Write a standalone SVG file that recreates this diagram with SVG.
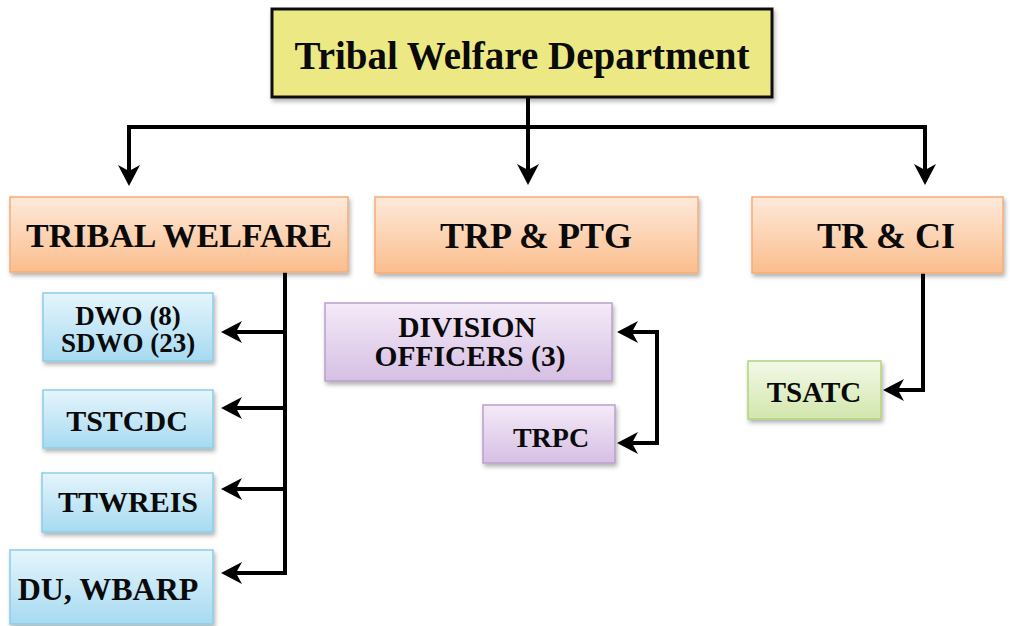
<svg xmlns="http://www.w3.org/2000/svg" width="1013" height="626" viewBox="0 0 1013 626">
<defs>
<linearGradient id="gOrange" x1="0" y1="0" x2="0" y2="1"><stop offset="0" stop-color="#fdeadb"/><stop offset="1" stop-color="#fbbd8c"/></linearGradient>
<linearGradient id="gBlue" x1="0" y1="0" x2="0" y2="1"><stop offset="0" stop-color="#e6f5fc"/><stop offset="1" stop-color="#a6daf1"/></linearGradient>
<linearGradient id="gPurple" x1="0" y1="0" x2="0" y2="1"><stop offset="0" stop-color="#f4eaf8"/><stop offset="1" stop-color="#d6bfe4"/></linearGradient>
<linearGradient id="gGreen" x1="0" y1="0" x2="0" y2="1"><stop offset="0" stop-color="#f3f9e8"/><stop offset="1" stop-color="#d2e6ac"/></linearGradient>
<filter id="shadow" x="-10%" y="-10%" width="120%" height="140%"><feDropShadow dx="1.5" dy="3" stdDeviation="2" flood-color="#000" flood-opacity="0.3"/></filter>
<marker id="ah" markerUnits="userSpaceOnUse" markerWidth="30" markerHeight="30" viewBox="-15 -15 30 30" refX="0" refY="0" orient="auto" overflow="visible">
<path d="M8,0 L-13,-11 L-7,0 L-13,11 Z" fill="#000"/>
</marker>
</defs>
<style>
.t{font-family:"Liberation Serif","Times New Roman",serif;font-weight:bold;fill:#0a0a0a;text-anchor:middle}
.orange{fill:url(#gOrange);stroke:#f4ad78;stroke-width:1.5;filter:url(#shadow)}
.blue{fill:url(#gBlue);stroke:#8ccde8;stroke-width:1.5;filter:url(#shadow)}
.purple{fill:url(#gPurple);stroke:#b9a0ca;stroke-width:1.5;filter:url(#shadow)}
.green{fill:url(#gGreen);stroke:#b3d37c;stroke-width:1.5;filter:url(#shadow)}
.conn path{fill:none;stroke:#000;stroke-width:4;stroke-linejoin:miter}
.arr{marker-end:url(#ah)}
</style>

<g id="connectors" class="conn">
<path d="M528,97 V127"/>
<path d="M129,127 H925"/>
<path class="arr" d="M129,125 V178"/>
<path class="arr" d="M528,127 V177"/>
<path class="arr" d="M925,125 V177"/>
<path class="arr" d="M285,272 V573 H229"/>
<path class="arr" d="M285,332 H229"/>
<path class="arr" d="M285,408 H229"/>
<path class="arr" d="M285,489 H229"/>
<path class="arr" d="M657,332 H625"/>
<path class="arr" d="M657,330 V443 H625"/>
<path class="arr" d="M923,273 V390 H891"/>
</g>

<g id="node-tribal-welfare-department">
<rect x="272" y="9" width="500" height="88" fill="#ece985" stroke="#111" stroke-width="3" filter="url(#shadow)"/>
<text class="t" x="522" y="69" font-size="39">Tribal Welfare Department</text>
</g>

<g id="node-tribal-welfare">
<rect class="orange" x="10" y="197" width="338" height="75"/>
<text class="t" x="179" y="247" font-size="34">TRIBAL WELFARE</text>
</g>

<g id="node-trp-ptg">
<rect class="orange" x="375" y="197" width="323" height="76"/>
<text class="t" x="536" y="248" font-size="36">TRP &amp; PTG</text>
</g>

<g id="node-tr-ci">
<rect class="orange" x="752" y="197" width="251" height="76"/>
<text class="t" x="886" y="248" font-size="36">TR &amp; CI</text>
</g>

<g id="node-dwo">
<rect class="blue" x="43" y="293" width="170" height="68"/>
<text class="t" font-size="27"><tspan x="128" y="325">DWO (8)</tspan><tspan x="128" y="352">SDWO (23)</tspan></text>
</g>

<g id="node-tstcdc">
<rect class="blue" x="43" y="390" width="170" height="58"/>
<text class="t" x="127" y="431" font-size="30">TSTCDC</text>
</g>

<g id="node-ttwreis">
<rect class="blue" x="42" y="473" width="171" height="59"/>
<text class="t" x="128" y="512" font-size="30">TTWREIS</text>
</g>

<g id="node-du-wbarp">
<rect class="blue" x="10" y="550" width="203" height="74"/>
<text class="t" x="108" y="600" font-size="32">DU, WBARP</text>
</g>

<g id="node-division-officers">
<rect class="purple" x="325" y="303" width="287" height="78"/>
<text class="t" font-size="29.5"><tspan x="467" y="337">DIVISION</tspan><tspan x="470" y="366">OFFICERS (3)</tspan></text>
</g>

<g id="node-trpc">
<rect class="purple" x="483" y="405" width="132" height="58"/>
<text class="t" x="551" y="447" font-size="28">TRPC</text>
</g>

<g id="node-tsatc">
<rect class="green" x="748" y="361" width="133" height="58"/>
<text class="t" x="814" y="402" font-size="29">TSATC</text>
</g>
</svg>
